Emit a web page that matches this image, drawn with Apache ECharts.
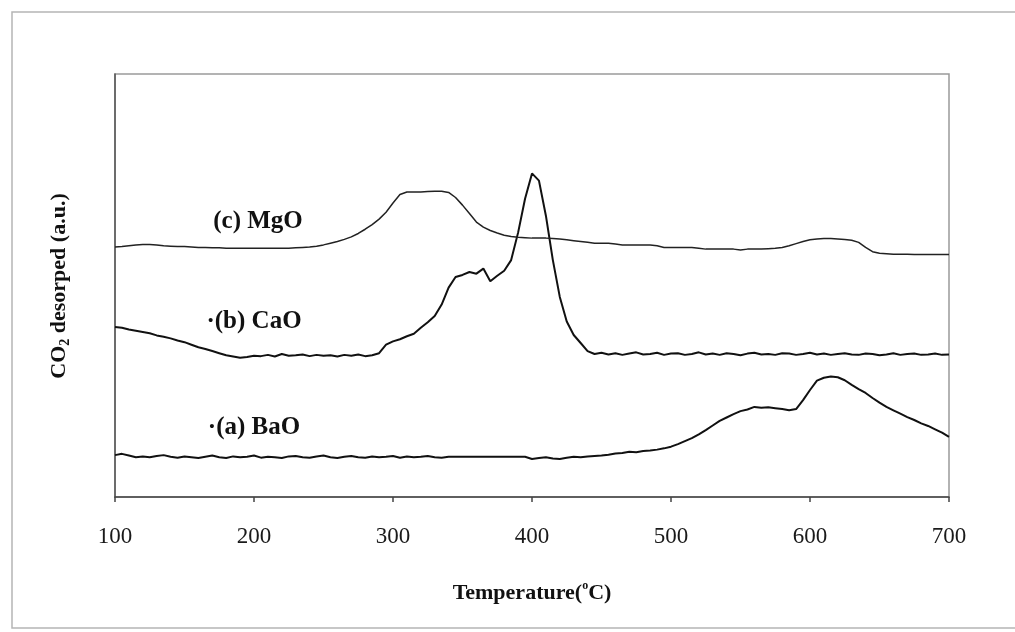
<!DOCTYPE html>
<html>
<head>
<meta charset="utf-8">
<script src="https://cdn.jsdelivr.net/npm/echarts@6/dist/echarts.min.js"></script>
<style>
html,body{margin:0;padding:0;background:#fff;}
#chart{width:1015px;height:632px;}
</style>
</head>
<body>
<div id="chart"></div>
<script>
// Temperature grid (°C), one value every 5 °C
const temps = [100,105,110,115,120,125,130,135,140,145,150,155,160,165,170,175,180,185,190,195,
200,205,210,215,220,225,230,235,240,245,250,255,260,265,270,275,280,285,290,295,
300,305,310,315,320,325,330,335,340,345,350,355,360,365,370,375,380,385,390,395,
400,405,410,415,420,425,430,435,440,445,450,455,460,465,470,475,480,485,490,495,
500,505,510,515,520,525,530,535,540,545,550,555,560,565,570,575,580,585,590,595,
600,605,610,615,620,625,630,635,640,645,650,655,660,665,670,675,680,685,690,695,700];

// (a) BaO
const baO = [9.9,10.2,9.8,9.4,9.6,9.4,9.7,9.9,9.5,9.3,9.6,9.4,9.2,9.5,9.8,9.4,9.2,9.6,9.4,9.5,
9.8,9.3,9.5,9.4,9.2,9.6,9.7,9.4,9.3,9.6,9.8,9.4,9.2,9.5,9.7,9.4,9.3,9.6,9.4,9.5,
9.7,9.3,9.6,9.4,9.5,9.7,9.4,9.3,9.5,9.5,9.5,9.5,9.5,9.5,9.5,9.5,9.5,9.5,9.5,9.5,
9.0,9.2,9.4,9.1,9.0,9.3,9.5,9.4,9.6,9.7,9.8,10.0,10.3,10.4,10.7,10.6,10.9,11.0,11.2,11.5,
11.9,12.5,13.2,13.9,14.8,15.8,16.9,18.0,18.8,19.6,20.3,20.7,21.3,21.1,21.2,21.0,20.8,20.5,20.8,22.9,
25.3,27.5,28.2,28.5,28.3,27.6,26.5,25.5,24.6,23.4,22.3,21.3,20.5,19.7,18.9,18.2,17.4,16.8,16.0,15.2,14.2];

// (b) CaO
const caO = [40.2,40.0,39.6,39.3,39.0,38.7,38.2,37.9,37.5,37.0,36.6,36.0,35.4,35.0,34.5,34.0,33.5,33.2,32.9,33.1,
33.4,33.3,33.6,33.2,33.8,33.4,33.5,33.7,33.3,33.6,33.4,33.5,33.2,33.6,33.4,33.7,33.3,33.5,34.0,36.0,
36.8,37.3,38.0,38.6,40.0,41.3,42.8,45.5,49.5,52.0,52.5,53.2,52.8,54.0,51.0,52.3,53.5,56.0,62.5,70.5,
76.5,74.8,66.5,56.0,47.3,41.5,38.3,36.4,34.5,33.8,34.1,33.7,34.0,33.6,33.9,34.2,33.7,33.8,34.1,33.6,
33.9,34.0,33.6,33.8,34.2,33.7,33.9,33.6,34.0,33.8,33.5,33.9,34.1,33.7,33.8,33.6,34.0,33.9,33.6,33.8,
34.1,33.7,33.9,33.6,33.8,34.0,33.7,33.6,33.9,33.8,33.5,33.7,34.0,33.6,33.8,33.9,33.6,33.7,33.9,33.6,33.7];

// (c) MgO
const mgO = [59.1,59.2,59.4,59.6,59.7,59.7,59.6,59.4,59.3,59.2,59.2,59.1,59.0,59.0,58.9,58.9,58.8,58.8,58.8,58.8,
58.8,58.8,58.8,58.8,58.8,58.8,58.9,59.0,59.1,59.3,59.6,60.0,60.4,60.9,61.5,62.3,63.3,64.4,65.7,67.3,
69.5,71.5,72.1,72.1,72.1,72.2,72.3,72.3,72.0,70.8,69.0,67.0,65.0,63.8,63.0,62.4,61.9,61.6,61.4,61.3,
61.2,61.2,61.2,61.1,61.0,60.8,60.6,60.4,60.2,60.0,60.0,60.0,59.8,59.6,59.6,59.6,59.6,59.6,59.4,59.0,
59.0,59.0,59.0,59.0,58.8,58.6,58.6,58.6,58.6,58.6,58.4,58.6,58.6,58.6,58.7,58.8,59.0,59.4,59.9,60.4,
60.8,61.0,61.1,61.1,61.0,60.9,60.7,60.2,59.0,58.0,57.6,57.5,57.4,57.4,57.4,57.3,57.3,57.3,57.3,57.3,57.3];

const xTicks = [100,200,300,400,500,600,700];
const seriesNames = ['(a) BaO','(b) CaO','(c) MgO'];

const serif = "'Liberation Serif','Times New Roman',serif";
const pair = (arr) => temps.map((t, i) => [t, arr[i]]);

const chart = echarts.init(document.getElementById('chart'));
chart.setOption({
  backgroundColor: '#fff',
  animation: false,
  grid: {left: 115, right: 66, top: 74, bottom: 135, show: true, borderColor: '#9a9a9a', borderWidth: 1.5, backgroundColor: '#fff'},
  xAxis: {
    type: 'value', min: xTicks[0], max: xTicks[xTicks.length - 1], interval: 100,
    axisLine: {show: true, lineStyle: {color: '#444', width: 1.5}},
    axisTick: {show: true, inside: false, length: 5, lineStyle: {color: '#444', width: 1.5}},
    axisLabel: {color: '#1a1a1a', fontFamily: serif, fontSize: 23, margin: 28},
    splitLine: {show: false}
  },
  yAxis: {
    type: 'value', min: 0, max: 100,
    axisLine: {show: true, lineStyle: {color: '#555', width: 1.5}},
    axisTick: {show: false}, axisLabel: {show: false}, splitLine: {show: false}
  },
  series: [
    {name: seriesNames[0], type: 'line', data: pair(baO), showSymbol: false, lineStyle: {color: '#111', width: 2}},
    {name: seriesNames[1], type: 'line', data: pair(caO), showSymbol: false, lineStyle: {color: '#111', width: 2}},
    {name: seriesNames[2], type: 'line', data: pair(mgO), showSymbol: false, lineStyle: {color: '#222', width: 1.5}}
  ],
  graphic: [
    {type: 'rect', shape: {x: 12, y: 12, width: 1010, height: 616}, style: {fill: 'none', stroke: '#b5b5b5', lineWidth: 1.5}, silent: true, z: -10},
    {type: 'text', x: 258, y: 222, style: {text: seriesNames[2], font: "bold 25px " + serif, fill: '#111', align: 'center', verticalAlign: 'middle'}},
    {type: 'text', x: 254, y: 322, style: {text: '·' + seriesNames[1], font: "bold 25px " + serif, fill: '#111', align: 'center', verticalAlign: 'middle'}},
    {type: 'text', x: 254, y: 428, style: {text: '·' + seriesNames[0], font: "bold 25px " + serif, fill: '#111', align: 'center', verticalAlign: 'middle'}},
    {type: 'text', x: 532, y: 592, style: {
      text: '{b|Temperature(}{s|o}{b|C)}', align: 'center', verticalAlign: 'middle',
      rich: {b: {fontFamily: serif, fontWeight: 'bold', fontSize: 22, fill: '#111', lineHeight: 24, verticalAlign: 'bottom'},
             s: {fontFamily: serif, fontWeight: 'bold', fontSize: 12, fill: '#111', lineHeight: 24, verticalAlign: 'top'}}
    }},
    {type: 'text', x: 60, y: 286, rotation: Math.PI / 2, style: {
      text: '{b|CO}{s|2}{b| desorped (a.u.)}', align: 'center', verticalAlign: 'middle',
      rich: {b: {fontFamily: serif, fontWeight: 'bold', fontSize: 22, fill: '#111', lineHeight: 24, verticalAlign: 'top'},
             s: {fontFamily: serif, fontWeight: 'bold', fontSize: 14, fill: '#111', lineHeight: 24, verticalAlign: 'bottom'}}
    }}
  ]
});
</script>
</body>
</html>
